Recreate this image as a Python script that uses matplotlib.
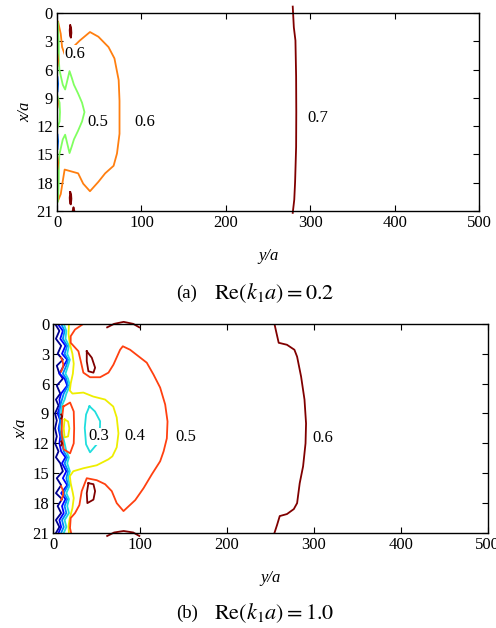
import matplotlib.pyplot as plt

plt.rcParams['font.family'] = ['Liberation Serif', 'DejaVu Serif']
plt.rcParams['mathtext.fontset'] = 'stix'

# contour lines: y/a (horizontal) and x/a (vertical)
# ---- panel (a), Re(k1 a) = 0.2 ----
a07_y = [279.2, 280.5, 282.4, 283.2, 283.4, 283.2, 282.0, 281.0, 279.2]
a07_x = [-0.7, 1.5, 2.9, 6.7, 10.5, 14.2, 17.9, 19.8, 21.2]

a06_y = [1.2, 4.4, 6, 9.2, 19, 27, 39, 49, 61, 68, 73, 74, 74, 71, 67, 57, 49, 39, 31, 25, 9, 7, 4.4, 1.2]
a06_x = [0.9, 2.2, 3.6, 4.4, 3.6, 2.9, 2.0, 2.5, 3.6, 4.8, 7.1, 9.3, 12.8, 14.9, 16.2, 17.0, 17.9, 18.9, 18.1, 17.0, 16.6, 17.7, 19.2, 19.9]

a05_y = [1.0, 2.0, 2.2, 2.8, 6.8, 9.6, 12.8, 14.8, 17.6, 20, 24.8, 29.6, 32.5,
         29.6, 24.8, 20, 17.6, 14.8, 12.8, 9.6, 6.8, 2.8, 2.2, 2.0, 1.0]
a05_x = [1.0, 3.0, 5.0, 6.0, 7.6, 8.1, 6.9, 6.15, 6.9, 7.6, 8.5, 9.5, 10.5,
         11.5, 12.5, 13.4, 14.1, 14.85, 14.1, 12.9, 13.4, 15.0, 16.0, 18.0, 20.0]
a05b_y = [0.5, 3.0, 3.5, 3.0, 0.5]
a05b_x = [8.8, 9.5, 10.5, 11.5, 12.2]

a04_y = [[0.6, 1.3, 0.6], [0.6, 1.3, 0.6]]
a04_x = [[6.8, 7.5, 8.3], [12.9, 13.6, 14.4]]

a06s_y = [[0.5, 1.4, 0.5], [0.5, 1.4, 0.5], [0.5, 1.0, 0.5]]
a06s_x = [[4.4, 5.0, 5.6], [15.3, 15.9, 16.5], [9.2, 9.6, 10.0]]

a07s_y = [[15.6, 16.6, 17.0, 16.4, 15.4, 15.0, 15.6], [15.6, 16.6, 17.0, 16.4, 15.4, 15.0, 15.6], [18.5, 19.5, 20.5]]
a07s_x = [[1.3, 1.5, 2.1, 2.6, 2.4, 1.8, 1.3], [19.0, 19.2, 19.7, 20.3, 20.2, 19.6, 19.0], [21.0, 20.6, 21.0]]

a_labels = [('0.6', 9, 4.3), ('0.5', 36.5, 11.5), ('0.6', 92, 11.5), ('0.7', 296, 11.1)]

# ---- panel (b), Re(k1 a) = 1.0 ----
b06_y = [254.6, 256.9, 259.5, 269, 277.6, 280.7, 285.3, 289.2, 291, 290.4, 287.6, 283.7, 280.7, 276.9, 269, 260.7, 257.6, 254.6]
b06_x = [0.0, 0.9, 1.9, 2.1, 2.6, 3.3, 5.3, 7.6, 10.0, 12.0, 14.3, 16.0, 18.0, 18.6, 19.1, 19.3, 20.2, 21.0]

b06s_y = [[38.5, 44.3, 48.1, 46.2, 40.4, 38.5, 38.5], [40.4, 46.2, 48.1, 46.2, 39.2, 38.5, 40.4],
          [62, 70, 81, 92, 99], [62, 70, 81, 92, 99], [9.0, 10.2, 9.0], [9.0, 10.2, 9.0]]
b06s_x = [[2.75, 3.4, 4.4, 4.9, 4.76, 3.75, 2.75], [16.0, 16.1, 16.8, 17.65, 18.0, 17.0, 16.0],
          [0.35, 0.0, -0.2, 0.0, 0.35], [21.3, 20.95, 20.8, 20.95, 21.3], [9.1, 9.3, 9.5], [11.8, 12.0, 12.2]]

b05_y = [34.6, 25, 20, 20, 28.9, 31.6, 34.6, 42.3, 53.9, 63.5, 69.2, 76.9, 80, 88.4, 98, 107.6, 115.4, 123,
         128.8, 131.5, 130.7, 127, 123, 113.5, 103.9, 94.3, 80.8, 73, 67.3, 59.6, 50, 38.5, 32.7, 30, 25, 20, 19.2, 21]
b05_x = [0.0, 0.57, 1.24, 1.9, 2.75, 3.75, 4.9, 5.36, 5.36, 4.9, 4.1, 2.6, 2.25, 2.6, 3.25, 3.9, 5.1, 6.4,
         8.1, 9.8, 11.5, 12.8, 13.8, 15.1, 16.5, 17.7, 18.8, 18.0, 16.8, 16.1, 15.7, 15.5, 16.8, 18.2, 19.0, 19.5, 20.5, 21.2]
b05s_y = [[11.6, 19.3, 23.5, 24, 23.5, 19.3, 12, 9.6, 10, 11.6], [9.0, 10.5, 11.5, 10.5, 9.0], [9.0, 10.5, 11.5, 10.5, 9.0]]
b05s_x = [[8.3, 7.9, 8.8, 10.5, 12.0, 13.0, 12.6, 11.0, 9.5, 8.3], [3.4, 3.7, 4.1, 4.5, 4.8], [16.3, 16.6, 17.0, 17.4, 17.7]]

b04_y = [18, 17.5, 19, 22, 23.5, 22.5, 20, 19, 22, 34.6, 46, 59.6, 69, 73, 75, 73, 68, 63.5, 50, 34.6, 23,
         19, 20, 22.5, 23.5, 22, 19, 17.5, 18]
b04_x = [0.0, 1.0, 2.0, 3.0, 4.0, 5.0, 6.0, 6.7, 7.0, 6.9, 7.3, 7.6, 8.3, 9.4, 11.0, 12.4, 13.3, 13.6, 14.2, 14.5, 14.8,
         15.3, 16.0, 17.0, 17.5, 18.5, 19.5, 20.3, 21.0]
b04s_y = [13, 17, 18.5, 17, 13, 12, 13]
b04s_x = [9.6, 9.8, 10.5, 11.3, 11.4, 10.5, 9.6]

b03_y = [41.6, 48, 53.9, 53.5, 50, 42.3, 37.7, 36.2, 37.7, 41.6]
b03_x = [8.27, 8.8, 9.78, 11.0, 12.1, 12.9, 12.1, 10.45, 9.1, 8.27]

# wall region: wiggly low-level contours, sampled at wall_x
wall_x = [0, 0.7, 1.5, 2.2, 3, 3.6, 4.2, 5, 5.5, 6.2, 7, 7.6, 8.2, 9, 9.7, 10.5, 11.3, 12, 12.8, 13.4, 14,
          14.8, 15.5, 16.2, 17, 17.6, 18.3, 19, 19.7, 20.4, 21]
b03w_y = [12, 15, 14, 18, 16, 19, 17, 14, 17, 19, 15, 13, 10, 9, 10, 9, 11, 13, 15, 18, 16, 19, 17, 19, 15, 18, 16, 18, 13, 15, 12]
b02_y = [9, 13, 11, 16, 13, 17, 15, 11, 15, 17, 12, 10, 8, 7, 8, 7, 9, 10, 12, 16, 13, 17, 15, 17, 12, 16, 13, 15, 10, 12, 9]
b01_y = [5, 11, 8, 14, 10, 16, 12, 7, 13, 16, 9, 7, 8, 5, 8, 6, 8, 7, 9, 14, 10, 15, 11, 16, 9, 14, 10, 12, 7, 9, 6]
b00_y = [2, 7, 3, 9, 5, 11, 4, 7, 11, 4, 8, 3, 6, 2, 4, 2, 4, 2, 6, 3, 8, 11, 4, 9, 3, 10, 5, 9, 3, 7, 3]

b_labels = [('0.3', 40.5, 11.3), ('0.4', 81.5, 11.3), ('0.5', 140, 11.4), ('0.6', 298, 11.5)]

x_ticks = [0, 3, 6, 9, 12, 15, 18, 21]
y_ticks = [0, 100, 200, 300, 400, 500]

colors = {'c00': '#00008f', 'c01': '#0000ff', 'c02': '#0080ff', 'c03': '#20dede', 'c04': '#eeee00',
          'a04': '#0070ff', 'a05': '#80ff60', 'a06': '#ff7f10', 'b05': '#ff4010', 'c07': '#800000'}

fig = plt.figure(figsize=(4.96, 6.28), dpi=100)
axa = fig.add_axes([0.115, 0.664, 0.851, 0.315])
axb = fig.add_axes([0.1075, 0.1513, 0.8755, 0.333])

lw = 1.3


def draw(ax, ys, xs, color, clip=True):
    ax.plot(ys, xs, color=color, lw=lw, clip_on=clip, solid_joinstyle='round')


# panel (a)
draw(axa, a07_y, a07_x, colors['c07'], clip=False)
draw(axa, a06_y, a06_x, colors['a06'])
draw(axa, a05_y, a05_x, colors['a05'])
draw(axa, a05b_y, a05b_x, colors['a05'])
for ys, xs in zip(a04_y, a04_x):
    draw(axa, ys, xs, colors['a04'])
for ys, xs in zip(a06s_y, a06s_x):
    draw(axa, ys, xs, colors['a06'])
for ys, xs in zip(a07s_y, a07s_x):
    draw(axa, ys, xs, colors['c07'])

# panel (b)
draw(axb, b00_y, wall_x, colors['c00'])
draw(axb, b01_y, wall_x, colors['c01'])
draw(axb, b02_y, wall_x, colors['c02'])
draw(axb, b03w_y, wall_x, colors['c03'])
draw(axb, b03_y, b03_x, colors['c03'])
draw(axb, b04_y, b04_x, colors['c04'])
draw(axb, b04s_y, b04s_x, colors['c04'])
draw(axb, b05_y, b05_x, colors['b05'])
for ys, xs in zip(b05s_y, b05s_x):
    draw(axb, ys, xs, colors['b05'])
draw(axb, b06_y, b06_x, colors['c07'])
for ys, xs in zip(b06s_y, b06s_x):
    draw(axb, ys, xs, colors['c07'], clip=False)

for ax, labels in ((axa, a_labels), (axb, b_labels)):
    for txt, yy, xx in labels:
        ax.text(yy, xx, txt, fontsize=12, ha='left', va='center',
                bbox=dict(facecolor='white', edgecolor='none', pad=0.3))
    ax.set_xlim(0, 500)
    ax.set_ylim(21, 0)
    ax.set_xticks(y_ticks)
    ax.set_yticks(x_ticks)
    ax.tick_params(direction='in', top=True, right=True, length=4, width=0.8, labelsize=12, pad=3)
    for sp in ax.spines.values():
        sp.set_linewidth(1.0)
    ax.set_xlabel('y/a', fontstyle='italic', fontsize=12, labelpad=12)
    ax.set_ylabel('x/a', fontstyle='italic', fontsize=12, labelpad=2)

fig.text(0.377, 0.533, '(a)', fontsize=13.5, ha='center', va='center')
fig.text(0.552, 0.533, r'$\mathrm{Re}(k_1 a) = 0.2$', fontsize=16, ha='center', va='center')
fig.text(0.377, 0.024, '(b)', fontsize=13.5, ha='center', va='center')
fig.text(0.552, 0.024, r'$\mathrm{Re}(k_1 a) = 1.0$', fontsize=16, ha='center', va='center')

fig.savefig('out.png', dpi=100)
